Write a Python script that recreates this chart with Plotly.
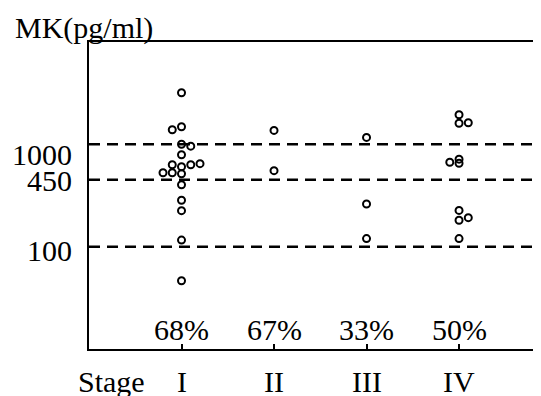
import plotly.graph_objects as go

# ---- data ----
stages = ["I", "II", "III", "IV"]
stage_pos = [1, 2, 3, 4]
percent_labels = ["68%", "67%", "33%", "50%"]

stage1_values = [3196, 1390, 1486, 1003, 959, 792, 632, 605, 632, 647, 528, 528, 516, 403, 284, 225, 116, 46.5]
stage1_slots = [0, -1, 0, 0, 1, 0, -1, 0, 1, 2, -2, -1, 0, 0, 0, 0, 0, 0]
stage2_values = [1368, 553]
stage2_slots = [0, 0]
stage3_values = [1169, 261, 120]
stage3_slots = [0, 0, 0]
stage4_values = [1948, 1609, 1627, 669, 716, 654, 226, 181, 192, 120]
stage4_slots = [0, 0, 1, -1, 0, 0, 0, 0, 1, 0]

cutoffs = [1000, 450, 100]
cutoff_labels = ["1000", "450", "100"]
y_title = "MK(pg/ml)"
x_title = "Stage"

FONT = "Liberation Serif, Times New Roman, serif"
SLOT_W = 0.1
X_RANGE = [0, 4.886]

fig = go.Figure()

# dashed cut-off lines
for c in cutoffs:
    fig.add_trace(go.Scatter(
        x=X_RANGE, y=[c, c], mode="lines",
        line=dict(color="black", width=2.5, dash="11px,7px"),
        hoverinfo="skip", showlegend=False))

groups = [(stage1_values, stage1_slots), (stage2_values, stage2_slots),
          (stage3_values, stage3_slots), (stage4_values, stage4_slots)]
for pos, (vals, slots) in zip(stage_pos, groups):
    fig.add_trace(go.Scatter(
        x=[pos + s * SLOT_W for s in slots], y=vals, mode="markers",
        marker=dict(symbol="circle-open", size=7, color="black",
                    line=dict(color="black", width=2)),
        showlegend=False))

annotations = []
# y cut-off labels (paper coords, 1000 nudged down as in the reference)
label_y = [0.634, 0.55, 0.322]
for txt, yy in zip(cutoff_labels, label_y):
    annotations.append(dict(text=txt, xref="paper", yref="paper", x=-0.033, y=yy,
                            xanchor="right", yanchor="middle", showarrow=False,
                            font=dict(family=FONT, size=30, color="black")))
# percentages
for pos, txt in zip(stage_pos, percent_labels):
    annotations.append(dict(text=txt, xref="x", yref="paper", x=pos, y=0.062,
                            xanchor="center", yanchor="middle", showarrow=False,
                            font=dict(family=FONT, size=30, color="black")))
# stage labels below the axis
for pos, txt in zip(stage_pos, stages):
    annotations.append(dict(text=txt, xref="x", yref="paper", x=pos, y=-0.105,
                            xanchor="center", yanchor="middle", showarrow=False,
                            font=dict(family=FONT, size=30, color="black")))
# axis titles
annotations.append(dict(text=y_title, xref="paper", yref="paper", x=-0.168, y=1.045,
                        xanchor="left", yanchor="middle", showarrow=False,
                        font=dict(family=FONT, size=30, color="black")))
annotations.append(dict(text=x_title, xref="paper", yref="paper", x=0.0487, y=-0.105,
                        xanchor="center", yanchor="middle", showarrow=False,
                        font=dict(family=FONT, size=30, color="black")))

# the page body has an 8px margin, so the figure is 8px smaller and margins shifted
fig.update_layout(
    width=533, height=388,
    margin=dict(l=81, r=0, t=34, b=47),
    paper_bgcolor="white", plot_bgcolor="white",
    annotations=annotations,
    xaxis=dict(range=X_RANGE, tickvals=stage_pos, ticktext=stages,
               showticklabels=False,
               ticks="inside", ticklen=5, tickwidth=2, tickcolor="black",
               showline=True, linecolor="black", linewidth=2, mirror=True,
               showgrid=False, zeroline=False),
    yaxis=dict(type="log", range=[1, 4], showline=True, linecolor="black",
               linewidth=2, showgrid=False, zeroline=False,
               showticklabels=False, ticks=""),
)

fig.write_html("out.html")
